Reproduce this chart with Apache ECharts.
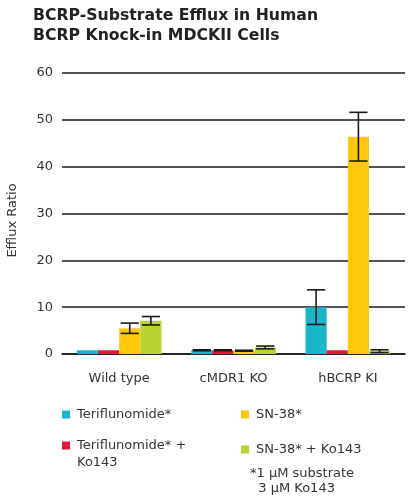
<!DOCTYPE html>
<html>
<head>
<meta charset="utf-8">
<script src="https://cdn.jsdelivr.net/npm/echarts@6/dist/echarts.min.js"></script>
<style>
html,body{margin:0;padding:0;background:#fff;}
#chart{width:412px;height:504px;}
</style>
</head>
<body>
<div id="chart"></div>
<script>
var categories = ['Wild type', 'cMDR1 KO', 'hBCRP KI'];
var seriesNames = ['Teriflunomide*', 'Teriflunomide* + Ko143', 'SN-38*', 'SN-38* + Ko143'];
var teri = [0.8, 0.8, 10.0];
var teriKo = [0.8, 0.8, 0.8];
var sn38 = [5.5, 0.7, 46.4];
var sn38Ko = [7.1, 1.4, 0.6];
var teriErr = [0, 0.1, 3.7];
var teriKoErr = [0, 0.1, 0];
var sn38Err = [1.1, 0.1, 5.2];
var sn38KoErr = [0.9, 0.3, 0.3];
var yTicks = [0, 10, 20, 30, 40, 50, 60];
var colors = ['#1ab7cb', '#e3183d', '#ffc80a', '#b7d433'];

var values = [teri, teriKo, sn38, sn38Ko];
var errors = [teriErr, teriKoErr, sn38Err, sn38KoErr];
var catGap = 0.26;

var chart = echarts.init(document.getElementById('chart'), null, {renderer: 'canvas'});
var FONT = 'DejaVu Sans';

var series = [];
values.forEach(function (vals, si) {
  series.push({
    type: 'bar',
    name: seriesNames[si],
    data: vals,
    itemStyle: {color: colors[si], borderWidth: 0},
    barGap: '0%',
    barCategoryGap: (catGap * 100) + '%'
  });
});
values.forEach(function (vals, si) {
  var errData = vals.map(function (v, ci) {
    return [ci, v - errors[si][ci], v + errors[si][ci]];
  }).filter(function (d, ci) { return errors[si][ci] > 0; });
  series.push({
    type: 'custom',
    name: seriesNames[si] + ' error',
    data: errData,
    z: 5,
    silent: true,
    renderItem: function (params, api) {
      var ci = api.value(0);
      var lo = api.coord([ci, api.value(1)]);
      var hi = api.coord([ci, api.value(2)]);
      var band = api.size([1, 0])[0];
      var bw = band * (1 - catGap) / 4;
      var x = lo[0] + (si - 1.5) * bw;
      var cap = bw * 0.43;
      var st = {stroke: '#1a1a1a', lineWidth: 1.6};
      return {
        type: 'group',
        children: [
          {type: 'line', shape: {x1: x, y1: lo[1], x2: x, y2: hi[1]}, style: st},
          {type: 'line', shape: {x1: x - cap, y1: hi[1], x2: x + cap, y2: hi[1]}, style: st},
          {type: 'line', shape: {x1: x - cap, y1: lo[1], x2: x + cap, y2: lo[1]}, style: st}
        ]
      };
    },
    encode: {x: 0, y: [1, 2]}
  });
});

var legendBase = {
  itemWidth: 8,
  itemHeight: 8,
  itemGap: 10,
  icon: 'rect',
  orient: 'vertical',
  textStyle: {fontFamily: FONT, fontSize: 13, color: '#333', padding: [0, 0, 0, 2]}
};
function mkLegend(name, left, top, extra) {
  var o = Object.assign({}, legendBase, {data: [name], left: left, top: top, padding: 0});
  if (extra) Object.assign(o, extra);
  return o;
}

var option = {
  animation: false,
  backgroundColor: '#fff',
  title: {
    text: 'BCRP-Substrate Efflux in Human\nBCRP Knock-in MDCKII Cells',
    left: 33,
    top: 6,
    padding: 0,
    textStyle: {fontFamily: FONT, fontSize: 15.7, fontWeight: 'bold', color: '#222', lineHeight: 20}
  },
  legend: [
    mkLegend(seriesNames[0], 62, 408),
    mkLegend(seriesNames[2], 241, 408),
    mkLegend(seriesNames[1], 62, 437, {
      itemHeight: 34,
      icon: 'path://M0,0h0.01v0.01h-0.01z M0,4.5h8v8h-8z M0,33.99h0.01v0.01h-0.01z',
      formatter: function () { return 'Teriflunomide* +\nKo143'; },
      textStyle: {fontFamily: FONT, fontSize: 13, color: '#333', lineHeight: 17, padding: [0, 0, 0, 2]}
    }),
    mkLegend(seriesNames[3], 241, 443)
  ],
  graphic: [{
    type: 'text',
    left: 250,
    top: 466,
    style: {text: '*1 µM substrate\n  3 µM Ko143', fontFamily: FONT, fontSize: 13, fill: '#333', lineHeight: 15}
  }],
  grid: {left: 62, right: 7, top: 73, bottom: 150, containLabel: false, outerBoundsMode: 'none'},
  xAxis: {
    type: 'category',
    data: categories,
    axisTick: {show: false},
    axisLine: {show: true, lineStyle: {color: '#1a1a1a', width: 1.5}},
    axisLabel: {fontFamily: FONT, fontSize: 13, color: '#333', margin: 18}
  },
  yAxis: {
    type: 'value',
    min: yTicks[0],
    max: yTicks[yTicks.length - 1],
    interval: 10,
    name: 'Efflux Ratio',
    nameLocation: 'middle',
    nameRotate: 90,
    nameGap: 43,
    nameTextStyle: {fontFamily: FONT, fontSize: 13, color: '#333', padding: [0, 14, 0, 0]},
    axisLine: {show: false},
    axisTick: {show: false},
    axisLabel: {fontFamily: FONT, fontSize: 13, color: '#333', margin: 9},
    splitLine: {show: true, lineStyle: {color: '#1a1a1a', width: 1.5}}
  },
  series: series
};
chart.setOption(option);
</script>
</body>
</html>
